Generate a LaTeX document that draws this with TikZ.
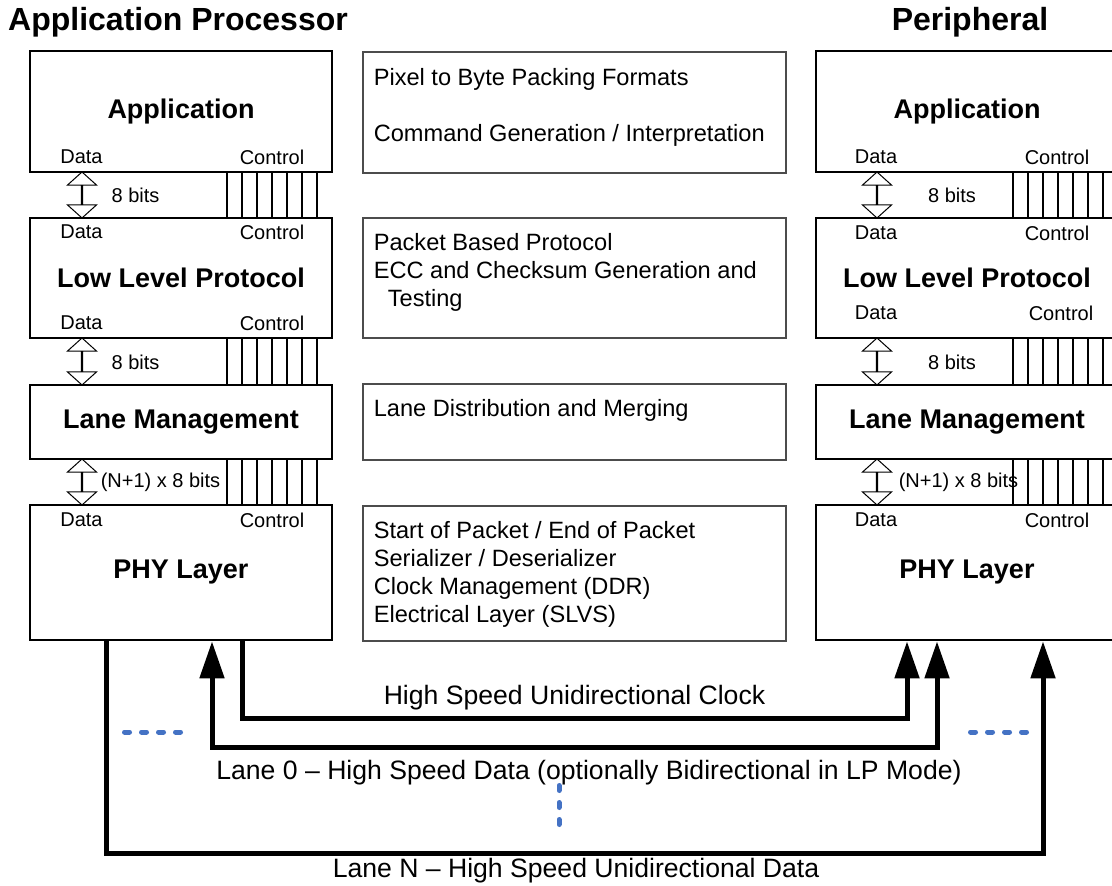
\documentclass[tikz,border=0pt]{standalone}
\usepackage{fontspec}
\setmainfont{Liberation Sans}
\usetikzlibrary{arrows.meta,shapes.arrows}
\definecolor{dotblue}{HTML}{4472C4}

\begin{document}
\begin{tikzpicture}[
    x=0.5pt, y=-0.5pt,
    layerbox/.style={draw, line width=1.4pt, minimum width=151pt, inner sep=0pt, font=\fontsize{13.5}{16}\selectfont\bfseries},
    funcbox/.style={draw=black!70, line width=0.6pt, minimum width=211.5pt, inner sep=0pt},
    note/.style={anchor=north west, inner sep=0pt, align=left, font=\fontsize{11.8}{14}\selectfont},
    port/.style={inner sep=0pt, font=\fontsize{10}{12}\selectfont},
    bus/.style={double arrow, draw, line width=0.5pt, shape border rotate=90, minimum height=23pt, minimum width=14.5pt, double arrow head extend=4.75pt, double arrow tip angle=96, inner sep=0pt},
    ctl/.style={line width=0.7pt},
    lane/.style={line width=2.5pt},
    lanetip/.style={-{Triangle[width=12pt,length=18.5pt]}},
    bothtips/.style={{Triangle[width=12pt,length=18.5pt]}-{Triangle[width=12pt,length=18.5pt]}},
    dots/.style={draw=dotblue, line width=2.5pt, line cap=round, dash pattern=on 2.5pt off 6pt},
    heading/.style={font=\fontsize{16}{19}\selectfont\bfseries},
    lanelabel/.style={font=\fontsize{13.3}{16}\selectfont}
]
\useasboundingbox (0,0) rectangle (1112,886);
\clip (0,0) rectangle (1112,886);

% Headings
\node[heading] (apTitle) at (178,22) {Application Processor};
\node[heading] (pTitle) at (970,22) {Peripheral};

% Application processor stack
\node[layerbox, minimum height=60.5pt] (apApp) at (181,111.5) {Application};
\node[layerbox, minimum height=60pt] (apLLP) at (181,278) {Low Level Protocol};
\node[layerbox, minimum height=37pt] (apLane) at (181,422) {Lane Management};
\node[layerbox, minimum height=67.5pt] (apPHY) at (181,572.5) {PHY Layer};

% Peripheral stack
\node[layerbox, minimum height=60.5pt] (pApp) at (967,111.5) {Application};
\node[layerbox, minimum height=60pt] (pLLP) at (967,278) {Low Level Protocol};
\node[layerbox, minimum height=37pt] (pLane) at (967,422) {Lane Management};
\node[layerbox, minimum height=67.5pt] (pPHY) at (967,572.5) {PHY Layer};

% Functions in the middle
\node[funcbox, minimum height=60.5pt] (midApp) at (574.5,112.5) {};
\node[funcbox, minimum height=60pt] (midLLP) at (574.5,278) {};
\node[funcbox, minimum height=38pt] (midLane) at (574.5,422) {};
\node[funcbox, minimum height=67.5pt] (midPHY) at (574.5,573.5) {};

\node[note] (appNote) at ([xshift=5.5pt,yshift=-8.5pt]midApp.north west)
    {Pixel to Byte Packing Formats\\[14pt]Command Generation / Interpretation};
\node[note] (llpNote) at ([xshift=5.5pt,yshift=-8pt]midLLP.north west)
    {Packet Based Protocol\\ECC and Checksum Generation and\\\hspace*{7pt}Testing};
\node[note] (laneNote) at ([xshift=5.5pt,yshift=-8pt]midLane.north west)
    {Lane Distribution and Merging};
\node[note] (phyNote) at ([xshift=5.5pt,yshift=-8pt]midPHY.north west)
    {Start of Packet / End of Packet\\Serializer / Deserializer\\Clock Management (DDR)\\Electrical Layer (SLVS)};

% Port labels
\node[port] (apAppD) at (81.5,157) {Data};
\node[port] (apAppC) at (272,157) {Control};
\node[port] (apLLPDt) at (81.5,232) {Data};
\node[port] (apLLPCt) at (272,232) {Control};
\node[port] (apLLPDb) at (81.5,323) {Data};
\node[port] (apLLPCb) at (272,323) {Control};
\node[port] (apPHYD) at (81.5,520) {Data};
\node[port] (apPHYC) at (272,520) {Control};

\node[port] (pAppD) at (876,157) {Data};
\node[port] (pAppC) at (1057,157) {Control};
\node[port] (pLLPDt) at (876,233) {Data};
\node[port] (pLLPCt) at (1057,233) {Control};
\node[port] (pLLPDb) at (876,313) {Data};
\node[port] (pLLPCb) at (1061,313) {Control};
\node[port] (pPHYD) at (876,520) {Data};
\node[port] (pPHYC) at (1057,520) {Control};

% Data buses
\node[bus] (apBus1) at (82,195) {};
\node[bus, minimum height=23.5pt] (apBus2) at (82,361.5) {};
\node[bus] (apBus3) at (82,482) {};
\node[bus] (pBus1) at (877,195) {};
\node[bus, minimum height=23.5pt] (pBus2) at (877,361.5) {};
\node[bus] (pBus3) at (877,482) {};

\node[port] (apBits1) at (135.5,195) {8 bits};
\node[port] (apBits2) at (135.5,362) {8 bits};
\node[port] (apBits3) at (160.5,482) {(N+1) x 8 bits};
\node[port] (pBits1) at (952,195) {8 bits};
\node[port] (pBits2) at (952,362) {8 bits};
\node[port] (pBits3) at (958.5,482) {(N+1) x 8 bits};

% Control lines
\foreach \cx in {227,242,...,317} {
  \draw[ctl] (apApp.south -| \cx,0) -- (apLLP.north -| \cx,0);
  \draw[ctl] (apLLP.south -| \cx,0) -- (apLane.north -| \cx,0);
  \draw[ctl] (apLane.south -| \cx,0) -- (apPHY.north -| \cx,0);
}
\foreach \cx in {1013,1028,...,1103} {
  \draw[ctl] (pApp.south -| \cx,0) -- (pLLP.north -| \cx,0);
  \draw[ctl] (pLLP.south -| \cx,0) -- (pLane.north -| \cx,0);
  \draw[ctl] (pLane.south -| \cx,0) -- (pPHY.north -| \cx,0);
}

% Lanes between the PHYs
\draw[lane, lanetip] (apPHY.south -| 242,0) -- (242,718) -- (907,718) -- (pPHY.south -| 907,0);
\draw[lane, bothtips] (apPHY.south -| 212,0) -- (212,747) -- (937,747) -- (pPHY.south -| 937,0);
\draw[lane, lanetip] (apPHY.south -| 106,0) -- (106,853) -- (1043,853) -- (pPHY.south -| 1043,0);

\node[lanelabel] (clkLabel) at (574.5,698) {High Speed Unidirectional Clock};
\node[lanelabel] (laneZeroLabel) at (589,773) {Lane 0 – High Speed Data (optionally Bidirectional in LP Mode)};
\node[lanelabel] (laneNLabel) at (576,871) {Lane N – High Speed Unidirectional Data};

% More lanes
\draw[dots] (124.5,732) -- (180.5,732);
\draw[dots] (970.5,732) -- (1027.5,732);
\draw[dots] (559,785.5) -- (559,826.5);

\end{tikzpicture}
\end{document}
